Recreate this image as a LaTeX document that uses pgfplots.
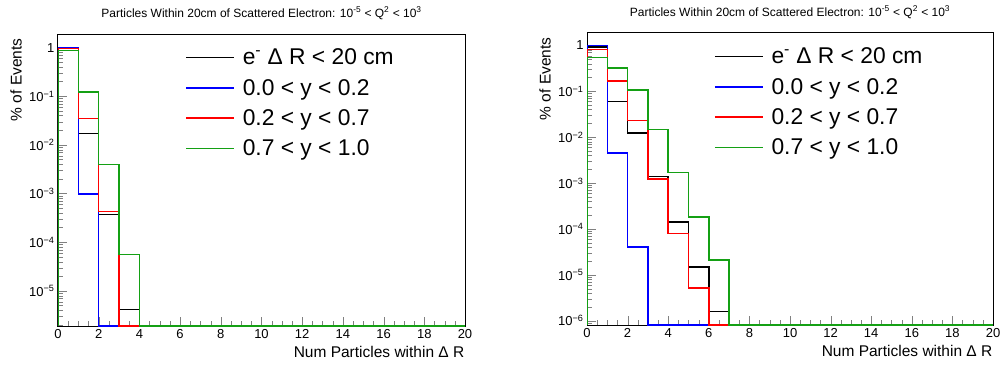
\documentclass[border=0pt]{standalone}
\usepackage{fontspec}
\setmainfont{Liberation Sans}
\usepackage{pgfplots}
\usepackage{pgfplotstable}
\pgfplotsset{compat=1.18}
\definecolor{rgreen}{RGB}{20,160,20}
\definecolor{rblue}{RGB}{0,0,255}
\definecolor{rred}{RGB}{255,0,0}

% left panel (zero bins written as the axis minimum 1.9e-6)
\pgfplotstableread{
x black blue red green
0 1.9e-6 1.9e-6 1.9e-6 1.9e-6
0 0.9825 0.999 0.9648 0.873
1 0.0171 9.7e-4 0.0348 0.123
2 3.7e-4 1.9e-6 4.27e-4 3.94e-3
3 4.1e-6 1.9e-6 1.9e-6 5.6e-5
4 1.9e-6 1.9e-6 1.9e-6 1.9e-6
5 1.9e-6 1.9e-6 1.9e-6 1.9e-6
6 1.9e-6 1.9e-6 1.9e-6 1.9e-6
7 1.9e-6 1.9e-6 1.9e-6 1.9e-6
8 1.9e-6 1.9e-6 1.9e-6 1.9e-6
9 1.9e-6 1.9e-6 1.9e-6 1.9e-6
10 1.9e-6 1.9e-6 1.9e-6 1.9e-6
11 1.9e-6 1.9e-6 1.9e-6 1.9e-6
12 1.9e-6 1.9e-6 1.9e-6 1.9e-6
13 1.9e-6 1.9e-6 1.9e-6 1.9e-6
14 1.9e-6 1.9e-6 1.9e-6 1.9e-6
15 1.9e-6 1.9e-6 1.9e-6 1.9e-6
16 1.9e-6 1.9e-6 1.9e-6 1.9e-6
17 1.9e-6 1.9e-6 1.9e-6 1.9e-6
18 1.9e-6 1.9e-6 1.9e-6 1.9e-6
19 1.9e-6 1.9e-6 1.9e-6 1.9e-6
20 1.9e-6 1.9e-6 1.9e-6 1.9e-6
}\lefttab

% right panel (zero bins written as the axis minimum 8.05e-7)
\pgfplotstableread{
x black blue red green
0 8.05e-7 8.05e-7 8.05e-7 8.05e-7
0 0.926 0.9955 0.807 0.552
1 0.060 4.5e-3 0.168 0.324
2 0.0124 4.0e-5 0.0232 0.107
3 1.4e-3 8.05e-7 1.24e-3 0.0147
4 1.42e-4 8.05e-7 8.0e-5 1.71e-3
5 1.47e-5 8.05e-7 5.1e-6 1.8e-4
6 1.57e-6 8.05e-7 8.05e-7 2.1e-5
7 8.05e-7 8.05e-7 8.05e-7 8.05e-7
8 8.05e-7 8.05e-7 8.05e-7 8.05e-7
9 8.05e-7 8.05e-7 8.05e-7 8.05e-7
10 8.05e-7 8.05e-7 8.05e-7 8.05e-7
11 8.05e-7 8.05e-7 8.05e-7 8.05e-7
12 8.05e-7 8.05e-7 8.05e-7 8.05e-7
13 8.05e-7 8.05e-7 8.05e-7 8.05e-7
14 8.05e-7 8.05e-7 8.05e-7 8.05e-7
15 8.05e-7 8.05e-7 8.05e-7 8.05e-7
16 8.05e-7 8.05e-7 8.05e-7 8.05e-7
17 8.05e-7 8.05e-7 8.05e-7 8.05e-7
18 8.05e-7 8.05e-7 8.05e-7 8.05e-7
19 8.05e-7 8.05e-7 8.05e-7 8.05e-7
20 8.05e-7 8.05e-7 8.05e-7 8.05e-7
}\righttab

\pgfplotsset{
 rootstyle/.style={
  scale only axis, height=292bp,
  xmin=0, xmax=20,
  xtick={0,2,...,20}, minor x tick num=3,
  tick align=inside, tick pos=left,
  major tick length=9bp, minor tick length=5bp,
  /pgf/number format/assume math mode=true,
  ticklabel style={font=\fontsize{13bp}{15bp}\selectfont},
  label style={font=\fontsize{15.5bp}{18bp}\selectfont},
  axis line style={line width=1bp},
  title style={at={(0.5,1)}, anchor=base, yshift=11bp, font=\fontsize{12bp}{14bp}\selectfont},
  title={Particles Within 20cm of Scattered Electron: 10\textsuperscript{-5} < Q\textsuperscript{2} < 10\textsuperscript{3}},
  xlabel={Num Particles within Δ R},
  ylabel={\% of Events},
  xlabel style={at={(axis description cs:1.007,-0.089)}, anchor=east},
  ylabel style={at={(axis description cs:-0.103,0.997)}, anchor=east},
  legend style={at={(axis description cs:0.305,0.964)}, anchor=north west, draw=none, fill=none,
    font=\fontsize{22.8bp}{26bp}\selectfont, row sep=9bp,
    /tikz/every odd column/.append style={column sep=6bp}},
  legend cell align=left,
 }
}

\begin{document}
\begin{tikzpicture}
\path[use as bounding box] (0,0) rectangle (1003bp,367bp);
\begin{axis}[ymode=log, width=407bp, rootstyle, at={(58bp,41bp)}, anchor=south west,
  legend image code/.code={\draw[#1] (0bp,0bp) -- (48bp,0bp);},
  ymin=1.9e-6, ymax=1.9,
  ytick={1e-5,1e-4,1e-3,1e-2,1e-1,1},
  yticklabels={10\textsuperscript{−5},10\textsuperscript{−4},10\textsuperscript{−3},10\textsuperscript{−2},10\textsuperscript{−1},1},
  minor ytick={2e-6,3e-6,4e-6,5e-6,6e-6,7e-6,8e-6,9e-6,
    2e-5,3e-5,4e-5,5e-5,6e-5,7e-5,8e-5,9e-5,
    2e-4,3e-4,4e-4,5e-4,6e-4,7e-4,8e-4,9e-4,
    2e-3,3e-3,4e-3,5e-3,6e-3,7e-3,8e-3,9e-3,
    2e-2,3e-2,4e-2,5e-2,6e-2,7e-2,8e-2,9e-2,
    2e-1,3e-1,4e-1,5e-1,6e-1,7e-1,8e-1,9e-1}]
\addplot[draw=black, const plot, line width=1.5bp, mark=none] table[x=x,y=black] {\lefttab};
\addlegendentry{e\textsuperscript{-} Δ R < 20 cm}
\addplot[draw=rblue, const plot, line width=1.5bp, mark=none] table[x=x,y=blue] {\lefttab};
\addlegendentry{0.0 < y < 0.2}
\addplot[draw=rred, const plot, line width=1.5bp, mark=none] table[x=x,y=red] {\lefttab};
\addlegendentry{0.2 < y < 0.7}
\addplot[draw=rgreen, const plot, line width=1.5bp, mark=none] table[x=x,y=green] {\lefttab};
\addlegendentry{0.7 < y < 1.0}
\end{axis}
\begin{axis}[ymode=log, width=406bp, rootstyle, at={(587bp,42bp)}, anchor=south west,
  legend image code/.code={\draw[#1] (0bp,0bp) -- (48bp,0bp);},
  ymin=8.05e-7, ymax=1.87,
  ytick={1e-6,1e-5,1e-4,1e-3,1e-2,1e-1,1},
  yticklabels={10\textsuperscript{−6},10\textsuperscript{−5},10\textsuperscript{−4},10\textsuperscript{−3},10\textsuperscript{−2},10\textsuperscript{−1},1},
  minor ytick={9e-7,
    2e-6,3e-6,4e-6,5e-6,6e-6,7e-6,8e-6,9e-6,
    2e-5,3e-5,4e-5,5e-5,6e-5,7e-5,8e-5,9e-5,
    2e-4,3e-4,4e-4,5e-4,6e-4,7e-4,8e-4,9e-4,
    2e-3,3e-3,4e-3,5e-3,6e-3,7e-3,8e-3,9e-3,
    2e-2,3e-2,4e-2,5e-2,6e-2,7e-2,8e-2,9e-2,
    2e-1,3e-1,4e-1,5e-1,6e-1,7e-1,8e-1,9e-1}]
\addplot[draw=black, const plot, line width=1.5bp, mark=none] table[x=x,y=black] {\righttab};
\addlegendentry{e\textsuperscript{-} Δ R < 20 cm}
\addplot[draw=rblue, const plot, line width=1.5bp, mark=none] table[x=x,y=blue] {\righttab};
\addlegendentry{0.0 < y < 0.2}
\addplot[draw=rred, const plot, line width=1.5bp, mark=none] table[x=x,y=red] {\righttab};
\addlegendentry{0.2 < y < 0.7}
\addplot[draw=rgreen, const plot, line width=1.5bp, mark=none] table[x=x,y=green] {\righttab};
\addlegendentry{0.7 < y < 1.0}
\end{axis}
\end{tikzpicture}
\end{document}
